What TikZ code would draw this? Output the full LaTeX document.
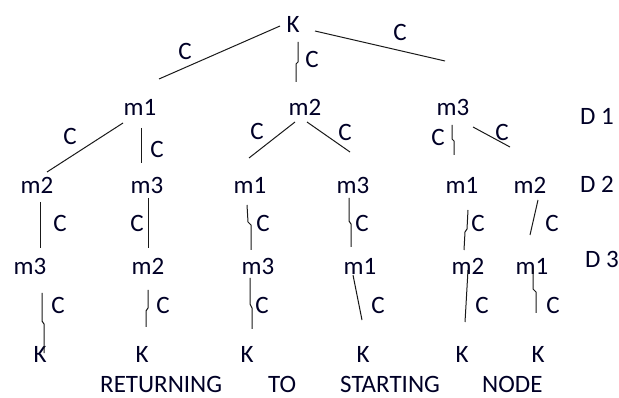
\documentclass[tikz,border=0pt]{standalone}
\usepackage{fontspec}
\setmainfont{Carlito}
\begin{document}
\begin{tikzpicture}[x=1pt,y=-1pt,
  lbl/.style={font=\fontsize{25}{28}\selectfont, text=black!85!blue, inner sep=0pt},
  edge/.style={draw=black!90, line width=1pt},
  elab/.style={font=\fontsize{25}{28}\selectfont, text=black!85!blue, inner sep=0pt}]
\useasboundingbox (0,0) rectangle (619,398);
% nodes
\node[lbl] (K0) at (293,24) {K};
\node[lbl] (a1) at (140,107) {m1};
\node[lbl] (a2) at (305,107) {m2};
\node[lbl] (a3) at (453,107) {m3};
\node[lbl] (D1) at (597,116) {D 1};
\node[lbl] (b1) at (37,185) {m2};
\node[lbl] (b2) at (147,185) {m3};
\node[lbl] (b3) at (250,185) {m1};
\node[lbl] (b4) at (353,185) {m3};
\node[lbl] (b5) at (462,185) {m1};
\node[lbl] (b6) at (530,185) {m2};
\node[lbl] (D2) at (597,184) {D 2};
\node[lbl] (c1) at (30,266) {m3};
\node[lbl] (c2) at (148,266) {m2};
\node[lbl] (c3) at (258,266) {m3};
\node[lbl] (c4) at (360,266) {m1};
\node[lbl] (c5) at (468,266) {m2};
\node[lbl] (c6) at (532,266) {m1};
\node[lbl] (D3) at (602,259) {D 3};
\node[lbl] (k1) at (40,354) {K};
\node[lbl] (k2) at (142,354) {K};
\node[lbl] (k3) at (247,354) {K};
\node[lbl] (k4) at (363,354) {K};
\node[lbl] (k5) at (462,354) {K};
\node[lbl] (k6) at (538,354) {K};
\node[lbl, anchor=west] (bottom) at (100,384) {\makebox[168pt][l]{RETURNING}\makebox[72pt][l]{TO}\makebox[142pt][l]{STARTING}NODE};
% edge end points
\coordinate (e1a) at (280,26); \coordinate (e1b) at (159,79);
\coordinate (e2a) at (298,42); \coordinate (e2b) at (296,82);
\coordinate (e3a) at (315,31); \coordinate (e3b) at (445,61);
\coordinate (f1a) at (123,123); \coordinate (f1b) at (47,172);
\coordinate (f2a) at (141,128); \coordinate (f2b) at (141,163);
\coordinate (f3a) at (295,122); \coordinate (f3b) at (249,158);
\coordinate (f4a) at (307,122); \coordinate (f4b) at (350,152);
\coordinate (f5a) at (452,125); \coordinate (f5b) at (454,155);
\coordinate (f6a) at (473,127); \coordinate (f6b) at (510,147);
\coordinate (g1a) at (40,202); \coordinate (g1b) at (40,248);
\coordinate (g2a) at (148,198); \coordinate (g2b) at (148,248);
\coordinate (g3a) at (247,205); \coordinate (g3b) at (251,250);
\coordinate (g4a) at (349,198); \coordinate (g4b) at (351,247);
\coordinate (g5a) at (468,210); \coordinate (g5b) at (464,250);
\coordinate (g6a) at (538,200); \coordinate (g6b) at (530,235);
\coordinate (h1a) at (42,293); \coordinate (h1b) at (44,353);
\coordinate (h2a) at (148,290); \coordinate (h2b) at (146,327);
\coordinate (h3a) at (250,278); \coordinate (h3b) at (252,329);
\coordinate (h4a) at (353,275); \coordinate (h4b) at (362,320);
\coordinate (h5a) at (468,270); \coordinate (h5b) at (465,322);
\coordinate (h6a) at (533,268); \coordinate (h6b) at (536,313);
% edges
\draw[edge] (e1a) -- (e1b);
\draw[edge] (e2a) -- ++(0,20) -- ++(-2,2) -- (e2b);
\draw[edge] (e3a) -- (e3b);
\draw[edge] (f1a) -- (f1b);
\draw[edge] (f2a) -- (f2b);
\draw[edge] (f3a) -- (f3b);
\draw[edge] (f4a) -- (f4b);
\draw[edge] (f5a) -- ++(0,14) -- ++(2,2) -- (f5b);
\draw[edge] (f6a) -- (f6b);
\draw[edge] (g1a) -- (g1b);
\draw[edge] (g2a) -- (g2b);
\draw[edge] (g3a) -- ++(1,17) -- ++(3,3) -- (g3b);
\draw[edge] (g4a) -- ++(0,23) -- ++(2,3) -- (g4b);
\draw[edge] (g5a) -- ++(-1,19) -- ++(-2,3) -- (g5b);
\draw[edge] (g6a) -- (g6b);
\draw[edge] (h1a) -- ++(0,28) -- ++(2,3) -- (h1b);
\draw[edge] (h2a) -- ++(0,18) -- ++(-2,3) -- (h2b);
\draw[edge] (h3a) -- ++(0,26) -- ++(2,4) -- (h3b);
\draw[edge] (h4a) -- (h4b);
\draw[edge] (h5a) -- ++(-2,35) -- (h5b);
\draw[edge] (h6a) -- ++(0,21) -- ++(3,3) -- (h6b);
% edge labels
\node[elab] (le1) at (185,51) {C};
\node[elab] (le2) at (312,59) {C};
\node[elab] (le3) at (400,32) {C};
\node[elab] (lf1) at (70,136) {C};
\node[elab] (lf2) at (157,149) {C};
\node[elab] (lf3) at (257,131) {C};
\node[elab] (lf4) at (345,132) {C};
\node[elab] (lf5) at (438,137) {C};
\node[elab] (lf6) at (502,132) {C};
\node[elab] (lg1) at (60,223) {C};
\node[elab] (lg2) at (137,223) {C};
\node[elab] (lg3) at (263,223) {C};
\node[elab] (lg4) at (362,223) {C};
\node[elab] (lg5) at (478,223) {C};
\node[elab] (lg6) at (552,223) {C};
\node[elab] (lh1) at (58,305) {C};
\node[elab] (lh2) at (163,305) {C};
\node[elab] (lh3) at (262,305) {C};
\node[elab] (lh4) at (378,305) {C};
\node[elab] (lh5) at (482,305) {C};
\node[elab] (lh6) at (553,305) {C};
\end{tikzpicture}
\end{document}
